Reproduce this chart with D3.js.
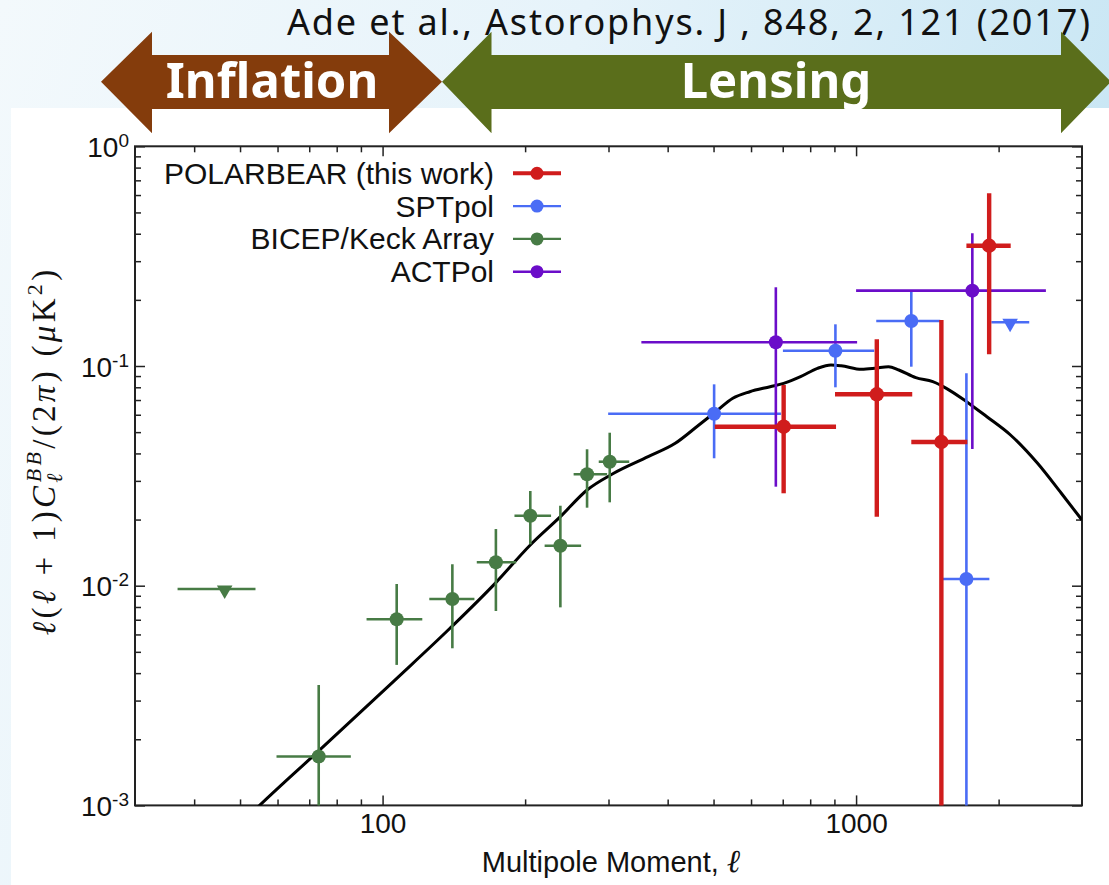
<!DOCTYPE html>
<html>
<head>
<meta charset="utf-8">
<script src="https://cdn.jsdelivr.net/npm/d3@7"></script>
<style>
  body { margin: 0; }
  svg { display: block; }
</style>
</head>
<body>
<svg id="chart" width="1109" height="885"></svg>
<script>
// rows: [ell, ellLo, ellHi, value, valueLo, valueHi]
const polarbear = [
  [703.1, 503, 907.1, 0.05293, 0.02634, 0.08194],
  [1106, 902.6, 1314, 0.07434, 0.02061, 0.1323],
  [1514, 1308, 1718, 0.04509, 0.0001, 0.162],
  [1910, 1710, 2121, 0.3527, 0.113, 0.6111]
];
const sptpol = [
  [501.4, 299.5, 693.8, 0.06067, 0.03802, 0.08252],
  [904.4, 700.6, 1092, 0.1174, 0.07998, 0.1548],
  [1308, 1103, 1506, 0.1602, 0.09927, 0.2195],
  [1710, 1521, 1912, 0.01073, 0.0001, 0.09264]
];
const bicepKeck = [
  [73.3, 59.7, 85.7, 0.00167, 0.0001, 0.00353],
  [107.1, 92.5, 121.3, 0.00703, 0.00436, 0.01018],
  [140.4, 125.5, 156.3, 0.0087, 0.00519, 0.01252],
  [173.5, 158.1, 191.5, 0.01278, 0.00767, 0.01811],
  [205.1, 189.9, 226.9, 0.02083, 0.01543, 0.02698],
  [237.4, 219.9, 262.6, 0.01521, 0.00797, 0.02312],
  [270.3, 253.2, 298, 0.03214, 0.02265, 0.04178],
  [301.8, 286.1, 331.8, 0.03667, 0.02396, 0.0497]
];
const actpol = [
  [676.9, 352, 1005, 0.1282, 0.02823, 0.2282],
  [1760, 1000, 2517, 0.2203, 0.04191, 0.4018]
];
// upper limits: [ell, ellLo, ellHi, value]
const bicepKeckLimits = [[46.4, 36.9, 53.9, 0.00966]];
const sptpolLimits = [[2115, 1931, 2321, 0.1581]];

// lensing B-mode theory curve
const theoryEll = [52, 55, 73.3, 106.2, 138.8, 172.9, 205.1, 237.4, 270.3,
  307.7, 363.8, 415, 465.6, 505.5, 549.1, 596.3, 658.3, 703.1, 763.3,
  828.8, 885.1, 929.7, 1027, 1096, 1171, 1231, 1337, 1452, 1551,
  1711, 1889, 2119, 2417, 2713, 3000];
const theoryVal = [0.00089, 0.001, 0.00177, 0.00372, 0.0064, 0.01025, 0.01532, 0.02061, 0.02726,
  0.03248, 0.03866, 0.04448, 0.05389, 0.06194, 0.07129, 0.07638, 0.08048, 0.08339, 0.0894,
  0.09761, 0.1011, 0.1003, 0.0966, 0.09761, 0.09927, 0.0959, 0.08846, 0.08484, 0.07914,
  0.06881, 0.05877, 0.04852, 0.03606, 0.02634, 0.0199];

const legendNames = ["POLARBEAR (this work)", "SPTpol", "BICEP/Keck Array", "ACTPol"];
const legendColors = ["#d01c1c", "#4a6cf5", "#477b45", "#6b0dc9"];

const xMajorTicks = [100, 1000];
const xMinorTicks = [40, 50, 60, 70, 80, 90, 200, 300, 400, 500, 600, 700, 800, 900, 2000];
const yMajorTicks = [1e-3, 1e-2, 1e-1, 1];
const yMinorTicks = [1e-3, 1e-2, 1e-1].flatMap(d => [2, 3, 4, 5, 6, 7, 8, 9].map(k => k * d));

const svg = d3.select("#chart");
const defs = svg.append("defs");

// slide background
const bg = defs.append("linearGradient").attr("id", "bg")
  .attr("x1", "0").attr("y1", "0").attr("x2", "1").attr("y2", "0.25");
bg.append("stop").attr("offset", "0").attr("stop-color", "#f3f9fc");
bg.append("stop").attr("offset", "0.5").attr("stop-color", "#e6f3fa");
bg.append("stop").attr("offset", "1").attr("stop-color", "#c8e6f4");
svg.append("rect").attr("width", 1109).attr("height", 885).attr("fill", "url(#bg)");
svg.append("rect").attr("x", 11).attr("y", 108).attr("width", 1098).attr("height", 777).attr("fill", "#fff");

const plotLeft = 135, plotRight = 1082, plotTop = 146.3, plotBottom = 805.4;

const x = d3.scaleLog().domain([30, 3000]).range([plotLeft, plotRight]);
const y = d3.scaleLog().domain([1e-3, 1]).range([plotBottom, plotTop]);

defs.append("clipPath").attr("id", "plot")
  .append("rect").attr("x", plotLeft).attr("y", plotTop)
  .attr("width", plotRight - plotLeft).attr("height", plotBottom - plotTop);

const font = "'Liberation Sans', Arial, sans-serif";
const serif = "'Liberation Serif', 'DejaVu Serif', serif";

// axes: ticks pointing inward on all four sides
function noDomain(g) { g.select(".domain").remove(); }

svg.append("g").attr("transform", `translate(0,${plotBottom})`)
  .call(d3.axisBottom(x).tickValues(xMinorTicks).tickSize(-6).tickFormat(""))
  .call(noDomain);
svg.append("g").attr("transform", `translate(0,${plotBottom})`)
  .call(d3.axisBottom(x).tickValues(xMajorTicks).tickSize(-10).tickPadding(8).tickFormat(d3.format("d")))
  .call(noDomain);
svg.append("g").attr("transform", `translate(0,${plotTop})`)
  .call(d3.axisTop(x).tickValues(xMinorTicks).tickSize(-6).tickFormat(""))
  .call(noDomain);
svg.append("g").attr("transform", `translate(0,${plotTop})`)
  .call(d3.axisTop(x).tickValues(xMajorTicks).tickSize(-10).tickFormat(""))
  .call(noDomain);

svg.append("g").attr("transform", `translate(${plotLeft},0)`)
  .call(d3.axisLeft(y).tickValues(yMinorTicks).tickSize(-6).tickFormat(""))
  .call(noDomain);
const yAxis = svg.append("g").attr("transform", `translate(${plotLeft},0)`)
  .call(d3.axisLeft(y).tickValues(yMajorTicks).tickSize(-10).tickPadding(6).tickFormat(d => "10"))
  .call(noDomain);
svg.append("g").attr("transform", `translate(${plotRight},0)`)
  .call(d3.axisRight(y).tickValues(yMinorTicks).tickSize(-6).tickFormat(""))
  .call(noDomain);
svg.append("g").attr("transform", `translate(${plotRight},0)`)
  .call(d3.axisRight(y).tickValues(yMajorTicks).tickSize(-10).tickFormat(""))
  .call(noDomain);

svg.selectAll(".tick line").attr("stroke", "#222").attr("stroke-width", 1.5);
svg.selectAll(".tick text").attr("fill", "#111").style("font-family", font).style("font-size", "28px");

yAxis.selectAll(".tick text")
  .attr("dy", "0.36em")
  .each(function(d) {
    const t = d3.select(this);
    t.text("");
    t.append("tspan").text("10");
    t.append("tspan").attr("dy", "-10").style("font-size", "19px").text(Math.round(Math.log10(d)));
  });

// frame
svg.append("rect").attr("x", plotLeft).attr("y", plotTop)
  .attr("width", plotRight - plotLeft).attr("height", plotBottom - plotTop)
  .attr("fill", "none").attr("stroke", "#222").attr("stroke-width", 2);

const plot = svg.append("g").attr("clip-path", "url(#plot)");

// theory curve
const theory = theoryEll.map((l, i) => [l, theoryVal[i]]);
plot.append("path")
  .datum(theory)
  .attr("fill", "none")
  .attr("stroke", "#000")
  .attr("stroke-width", 3)
  .attr("d", d3.line().x(d => x(d[0])).y(d => y(d[1])).curve(d3.curveMonotoneX));

function drawSeries(data, color, width, r) {
  const g = plot.append("g");
  g.selectAll(".h").data(data).enter().append("line")
    .attr("x1", d => x(d[1])).attr("x2", d => x(d[2]))
    .attr("y1", d => y(d[3])).attr("y2", d => y(d[3]))
    .attr("stroke", color).attr("stroke-width", width);
  g.selectAll(".v").data(data).enter().append("line")
    .attr("x1", d => x(d[0])).attr("x2", d => x(d[0]))
    .attr("y1", d => y(d[4])).attr("y2", d => y(d[5]))
    .attr("stroke", color).attr("stroke-width", width);
  g.selectAll("circle").data(data).enter().append("circle")
    .attr("cx", d => x(d[0])).attr("cy", d => y(d[3]))
    .attr("r", r).attr("fill", color);
}

function drawLimits(data, color, width) {
  const g = plot.append("g");
  g.selectAll("line").data(data).enter().append("line")
    .attr("x1", d => x(d[1])).attr("x2", d => x(d[2]))
    .attr("y1", d => y(d[3])).attr("y2", d => y(d[3]))
    .attr("stroke", color).attr("stroke-width", width);
  g.selectAll("path").data(data).enter().append("path")
    .attr("d", d3.symbol(d3.symbolTriangle).size(105))
    .attr("transform", d => `translate(${x(d[0])},${y(d[3]) + 1}) rotate(180)`)
    .attr("fill", color);
}

drawSeries(bicepKeck, legendColors[2], 2.6, 7);
drawLimits(bicepKeckLimits, legendColors[2], 2.6);
drawSeries(sptpol, legendColors[1], 2.6, 7);
drawLimits(sptpolLimits, legendColors[1], 2.6);
drawSeries(actpol, legendColors[3], 2.6, 7);
drawSeries(polarbear, legendColors[0], 4.4, 7.2);

// legend
const legend = svg.append("g");
legendNames.forEach((name, i) => {
  const ly = 173.3 + i * 32.8;
  legend.append("text")
    .attr("x", 494).attr("y", ly).attr("dy", "0.35em")
    .attr("text-anchor", "end")
    .style("font-family", font).style("font-size", "30px").attr("fill", "#111")
    .text(name);
  legend.append("line")
    .attr("x1", 513).attr("x2", 561).attr("y1", ly).attr("y2", ly)
    .attr("stroke", legendColors[i]).attr("stroke-width", i === 0 ? 4 : 2.4);
  legend.append("circle")
    .attr("cx", 537).attr("cy", ly).attr("r", 6.5).attr("fill", legendColors[i]);
});

// x label
const xl = svg.append("text")
  .attr("x", 611).attr("y", 872).attr("text-anchor", "middle")
  .style("font-family", font).style("font-size", "29px").attr("fill", "#111");
xl.append("tspan").text("Multipole Moment, ");
xl.append("tspan").style("font-family", serif).style("font-style", "italic").style("font-size", "32px").text("ℓ");

// y label
const yl = svg.append("text")
  .attr("transform", "translate(55,451) rotate(-90)")
  .attr("text-anchor", "middle")
  .style("font-family", serif).style("font-size", "33px")
  .style("letter-spacing", "3.3px").attr("fill", "#111");
const parts = [
  ["ℓ", "italic"], ["(", ""], ["ℓ", "italic"], [" + 1)", ""], ["C", "italic"]
];
parts.forEach(p => yl.append("tspan").style("font-style", p[1] || "normal").text(p[0]));
yl.append("tspan").attr("dy", 7).style("font-size", "22px").style("font-style", "italic").text("ℓ");
yl.append("tspan").attr("dx", -12).attr("dy", -21).style("font-size", "22px").style("font-style", "italic").text("BB");
yl.append("tspan").attr("dy", 14).text("/(2");
yl.append("tspan").style("font-style", "italic").text("π");
yl.append("tspan").text(")  (");
yl.append("tspan").style("font-style", "italic").text("μ");
yl.append("tspan").text("K");
yl.append("tspan").attr("dy", -13).style("font-size", "22px").text("2");
yl.append("tspan").attr("dy", 13).text(")");

// citation sits behind the arrows, as on the slide
svg.append("text").attr("x", 1090).attr("y", 35).attr("text-anchor", "end")
  .attr("textLength", 803).attr("lengthAdjust", "spacing")
  .style("font-family", "'Noto Sans', sans-serif").style("font-size", "36px").attr("fill", "#111")
  .text("Ade et al., Astorophys. J , 848, 2, 121 (2017)");

const arrows = svg.append("g");
arrows.append("path")
  .attr("d", "M101,81.7 L152,31.7 L152,55 L389,55 L389,31.7 L442,81.7 L389,133.3 L389,109 L152,109 L152,133.3 Z")
  .attr("fill", "#843c0c");
arrows.append("path")
  .attr("d", "M442,81.7 L491.5,31.7 L491.5,55 L1061,55 L1061,31.7 L1111,81.7 L1061,133.3 L1061,109 L491.5,109 L491.5,133.3 Z")
  .attr("fill", "#5a6e1b");
arrows.append("text").attr("x", 272).attr("y", 98).attr("text-anchor", "middle")
  .style("font-family", "'Noto Sans', sans-serif").style("font-weight", "bold").style("font-size", "49px")
  .attr("fill", "#fff").text("Inflation");
arrows.append("text").attr("x", 776).attr("y", 98).attr("text-anchor", "middle")
  .style("font-family", "'Noto Sans', sans-serif").style("font-weight", "bold").style("font-size", "49px")
  .attr("fill", "#fff").text("Lensing");
</script>
</body>
</html>
